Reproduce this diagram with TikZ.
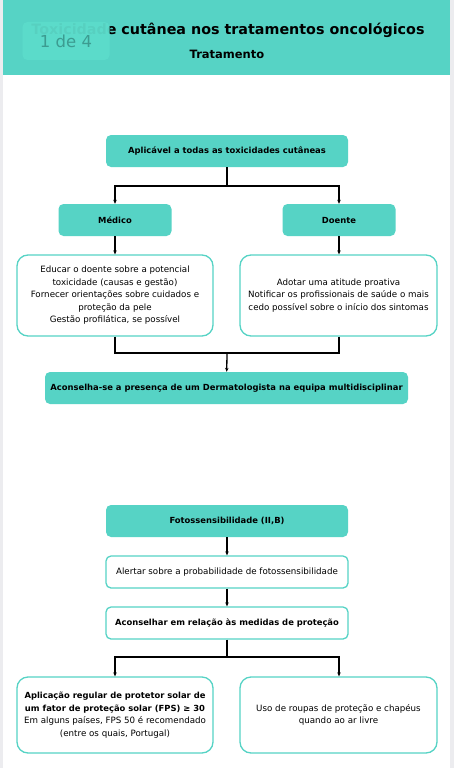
\documentclass[tikz,border=0pt]{standalone}
\usepackage{fontspec}
\setmainfont{DejaVu Sans}
\usetikzlibrary{arrows.meta}
\definecolor{teal1}{HTML}{56D3C5}
\definecolor{badge}{HTML}{5CDCCB}
\definecolor{badgetxt}{HTML}{3C9C91}
\definecolor{side}{HTML}{ECECEF}
\begin{document}
\begin{tikzpicture}[x=1pt, y=-1pt,
  hdbox/.style={fill=teal1, rounded corners=5pt, minimum height=32pt, font=\bfseries\fontsize{8.4}{10}\selectfont},
  txbox/.style={draw=teal1, line width=1.3pt, fill=white, rounded corners=11pt, align=center, font=\fontsize{8.7}{12.5}\selectfont},
  link/.style={line width=1.3pt},
  arr/.style={link, -{Stealth[length=4pt, width=3.5pt]}}]
% page
\fill[side] (0,0) rectangle (454,768);
\fill[white] (3,75) rectangle (450,768);
\fill[teal1] (3,0) rectangle (450,75);
\useasboundingbox (0,0) rectangle (454,768);
% header
\node[font=\bfseries\fontsize{14.3}{16}\selectfont] (title) at (228,30) {Toxicidade cutânea nos tratamentos oncológicos};
\node[font=\bfseries\fontsize{11.5}{13}\selectfont] (sub) at (227,54) {Tratamento};
\node[fill=badge, fill opacity=0.95, text opacity=1, text=badgetxt, rounded corners=5pt,
  minimum width=87pt, minimum height=38pt, font=\fontsize{16.5}{18}\selectfont] (page) at (66,41) {1 de 4};
% part 1
\node[hdbox, minimum width=242pt] (apl) at (227,151) {Aplicável a todas as toxicidades cutâneas};
\node[hdbox, minimum width=113pt] (med) at (115,220) {Médico};
\node[hdbox, minimum width=113pt] (doe) at (339,220) {Doente};
\node[txbox, minimum width=196pt, minimum height=81pt] (medtx) at (115,295.5)
  {Educar o doente sobre a potencial\\toxicidade (causas e gestão)\\Fornecer orientações sobre cuidados e\\proteção da pele\\Gestão profilática, se possível};
\node[txbox, minimum width=197pt, minimum height=81pt] (doetx) at (338.5,295.5)
  {Adotar uma atitude proativa\\Notificar os profissionais de saúde o mais\\cedo possível sobre o início dos sintomas};
\node[hdbox, minimum width=363pt] (derm) at (226.5,388) {Aconselha-se a presença de um Dermatologista na equipa multidisciplinar};
\path (227,186) coordinate (split1) (227,353) coordinate (join1);
\draw[link] (apl) -- (split1);
\draw[arr] (split1) -| (med);
\draw[arr] (split1) -| (doe);
\draw[arr] (med) -- (medtx);
\draw[arr] (doe) -- (doetx.north -| doe);
\draw[link] (medtx) |- (join1);
\draw[link] (doetx.south -| doe) |- (join1);
\draw[arr] (join1) -- (derm);
% part 2
\node[hdbox, minimum width=242pt] (foto) at (227,521) {Fotossensibilidade (II,B)};
\node[txbox, rounded corners=5pt, minimum width=242pt, minimum height=32pt] (alert) at (227,572) {Alertar sobre a probabilidade de fotossensibilidade};
\node[txbox, rounded corners=5pt, minimum width=242pt, minimum height=32pt, font=\bfseries\fontsize{8.4}{10}\selectfont] (acons) at (227,623) {Aconselhar em relação às medidas de proteção};
\node[txbox, minimum width=196pt, minimum height=76pt] (fps) at (115,715)
  {\bfseries\fontsize{8.4}{12.5}\selectfont Aplicação regular de protetor solar de\\\bfseries\fontsize{8.4}{12.5}\selectfont um fator de proteção solar (FPS) ≥ 30\\Em alguns países, FPS 50 é recomendado\\(entre os quais, Portugal)};
\node[txbox, minimum width=197pt, minimum height=76pt] (roupa) at (338.5,715)
  {Uso de roupas de proteção e chapéus\\quando ao ar livre};
\path (227,657) coordinate (split2);
\draw[arr] (foto) -- (alert);
\draw[arr] (alert) -- (acons);
\draw[link] (acons) -- (split2);
\draw[arr] (split2) -| (fps);
\draw[arr] (split2) -| (roupa.north -| doe);
\end{tikzpicture}
\end{document}
